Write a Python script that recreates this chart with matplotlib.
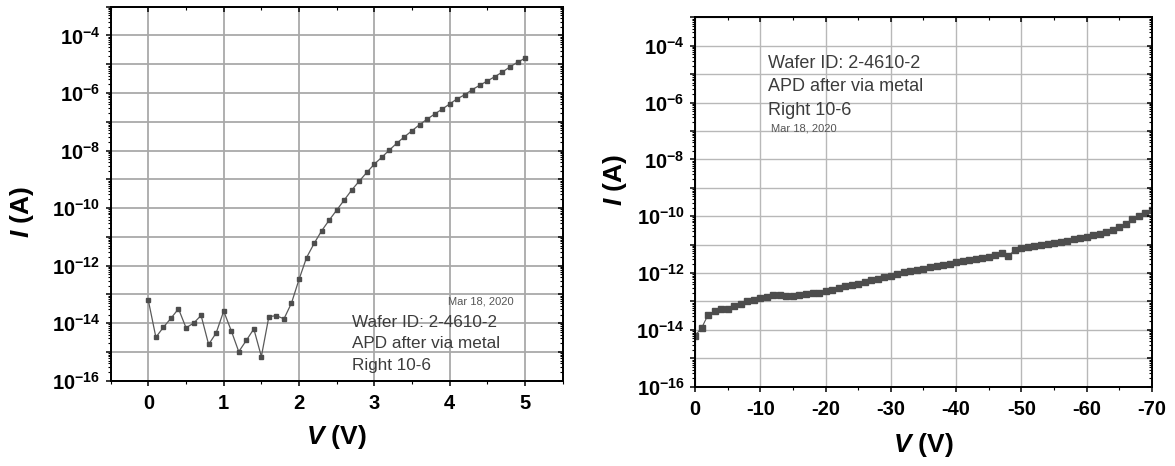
import numpy as np
import matplotlib
matplotlib.use('Agg')
import matplotlib.pyplot as plt
from matplotlib.ticker import LogLocator, FuncFormatter, MultipleLocator, NullFormatter

plt.rcParams['font.family'] = ['Liberation Sans', 'DejaVu Sans']
plt.rcParams['mathtext.fontset'] = 'custom'
plt.rcParams['mathtext.rm'] = 'Liberation Sans'
plt.rcParams['mathtext.bf'] = 'Liberation Sans:bold'
plt.rcParams['mathtext.it'] = 'Liberation Sans:bold:italic'

# forward bias sweep, 0..5 V in 0.1 V steps (log10 of current in A)
v_fwd = [round(0.1 * i, 1) for i in range(51)]
log_i_fwd = [-13.21, -14.49, -14.14, -13.83, -13.50, -14.16, -14.00, -13.73, -14.74, -14.34,
             -13.58, -14.26, -14.99, -14.60, -14.20, -15.16, -13.77, -13.74, -13.85, -13.30,
             -12.48, -11.72, -11.23, -10.79, -10.42, -10.07, -9.72, -9.37, -9.06, -8.76,
             -8.47, -8.23, -7.98, -7.74, -7.52, -7.31, -7.10, -6.91, -6.73, -6.56,
             -6.38, -6.20, -6.06, -5.88, -5.73, -5.58, -5.43, -5.27, -5.09, -4.93, -4.79]

# reverse bias sweep, 0..-70 V in 1 V steps
v_rev = [-i for i in range(71)]
log_i_rev = [-14.20, -13.94, -13.47, -13.35, -13.27, -13.27, -13.15, -13.08, -13.00, -12.94,
             -12.88, -12.84, -12.79, -12.79, -12.80, -12.80, -12.78, -12.75, -12.71, -12.69,
             -12.63, -12.58, -12.52, -12.47, -12.42, -12.38, -12.32, -12.26, -12.20, -12.15,
             -12.11, -12.04, -11.98, -11.94, -11.89, -11.85, -11.80, -11.76, -11.72, -11.67,
             -11.61, -11.58, -11.54, -11.49, -11.46, -11.42, -11.38, -11.31, -11.40, -11.19,
             -11.12, -11.08, -11.06, -11.02, -10.99, -10.95, -10.92, -10.87, -10.82, -10.78,
             -10.72, -10.67, -10.62, -10.55, -10.47, -10.38, -10.28, -10.11, -9.98, -9.90, -9.77]

note_lines = ['Wafer ID: 2-4610-2', 'APD after via metal', 'Right 10-6']
date_txt = 'Mar 18, 2020'

i_fwd = 10.0 ** np.array(log_i_fwd)
i_rev = 10.0 ** np.array(log_i_rev)


def log_fmt(val, pos):
    e = int(round(np.log10(val)))
    if e % 2:
        return ''
    return r'$\mathbf{10^{%d}}$' % e


def style_axes(ax, xlim, xmajor, xminor, grid_lw, grid_col):
    ax.set_yscale('log')
    ax.set_ylim(1e-16, 1e-3)
    ax.set_xlim(*xlim)
    ax.yaxis.set_major_locator(LogLocator(base=10, numticks=30))
    ax.yaxis.set_minor_locator(LogLocator(base=10, subs=np.arange(2, 10), numticks=30))
    ax.yaxis.set_major_formatter(FuncFormatter(log_fmt))
    ax.yaxis.set_minor_formatter(NullFormatter())
    ax.xaxis.set_major_locator(MultipleLocator(xmajor))
    ax.xaxis.set_minor_locator(MultipleLocator(xminor))
    ax.xaxis.set_major_formatter(FuncFormatter(lambda v, p: '%g' % v))
    ax.grid(True, which='major', color=grid_col, lw=grid_lw, zorder=0)
    ax.set_axisbelow(True)
    for s in ax.spines.values():
        s.set_linewidth(1.1)
    ax.tick_params(axis='both', which='major', direction='out', length=3.5, width=1.1,
                   labelsize=14.5, pad=4)
    ax.tick_params(axis='x', which='major', pad=6)
    ax.tick_params(axis='both', which='minor', direction='out', length=2, width=0.8)
    # mirrored ticks pointing inward on top/right
    tx = ax.twiny()
    tx.set_xlim(ax.get_xlim())
    tx.xaxis.set_major_locator(MultipleLocator(xmajor))
    tx.xaxis.set_minor_locator(MultipleLocator(xminor))
    tx.tick_params(axis='x', which='major', direction='in', length=3.5, width=1.1, labeltop=False)
    tx.tick_params(axis='x', which='minor', direction='in', length=2.5, width=0.8)
    ty = ax.twinx()
    ty.set_yscale('log')
    ty.set_ylim(ax.get_ylim())
    ty.yaxis.set_major_locator(LogLocator(base=10, numticks=30))
    ty.yaxis.set_minor_locator(LogLocator(base=10, subs=np.arange(2, 10), numticks=30))
    ty.yaxis.set_minor_formatter(NullFormatter())
    ty.tick_params(axis='y', which='major', direction='in', length=3.5, width=1.1, labelright=False)
    ty.tick_params(axis='y', which='minor', direction='in', length=2, width=0.8)
    for t in (tx, ty):
        for s in t.spines.values():
            s.set_linewidth(1.1)


fig = plt.figure(figsize=(11.75, 4.66), dpi=100)

ax1 = fig.add_axes([0.0942, 0.183, 0.3847, 0.8026])
style_axes(ax1, (-0.5, 5.5), 1, 0.5, 1.3, '#a9a9a9')
ax1.plot(v_fwd, i_fwd, color='#5a5a5a', lw=0.9, marker='s', ms=3.0,
         mfc='#4d4d4d', mec='#4d4d4d', zorder=3)
ax1.set_xlabel(r'$\mathit{V}$ (V)', fontsize=19, fontweight='bold')
ax1.xaxis.set_label_coords(0.5, -0.15)
ax1.xaxis.label.set_verticalalignment('center')
ax1.set_ylabel(r'$\mathit{I}$ (A)', fontsize=19, fontweight='bold')
ax1.yaxis.set_label_coords(-0.196, 0.452)
ax1.yaxis.label.set_verticalalignment('center')
for k, line in enumerate(note_lines):
    ax1.text(0.534, 0.157 - 0.058 * k, line, transform=ax1.transAxes, fontsize=12.3,
             color='#3c3c3c', ha='left', va='center', zorder=4)
ax1.text(0.819, 0.213, date_txt, transform=ax1.transAxes, fontsize=8,
         color='#555555', ha='center', va='center', zorder=4)

ax2 = fig.add_axes([0.5915, 0.1702, 0.3889, 0.7927])
style_axes(ax2, (0, -70), 10, 5, 1.0, '#b8b8b8')
ax2.plot(v_rev, i_rev, color='#555555', lw=0.8, marker='s', ms=3.8,
         mfc='#4d4d4d', mec='#4d4d4d', zorder=3)
ax2.set_xlabel(r'$\mathit{V}$ (V)', fontsize=19, fontweight='bold')
ax2.xaxis.set_label_coords(0.5, -0.158)
ax2.xaxis.label.set_verticalalignment('center')
ax2.set_ylabel(r'$\mathit{I}$ (A)', fontsize=19, fontweight='bold')
ax2.yaxis.set_label_coords(-0.175, 0.56)
ax2.yaxis.label.set_verticalalignment('center')
for k, line in enumerate(note_lines):
    ax2.text(0.16, 0.876 - 0.064 * k, line, transform=ax2.transAxes, fontsize=13,
             color='#3c3c3c', ha='left', va='center', zorder=4)
ax2.text(0.166, 0.698, date_txt, transform=ax2.transAxes, fontsize=8,
         color='#555555', ha='left', va='center', zorder=4)

for ax in (ax1, ax2):
    for lab in ax.get_xticklabels():
        lab.set_fontweight('bold')

fig.savefig('out.png', dpi=100)
